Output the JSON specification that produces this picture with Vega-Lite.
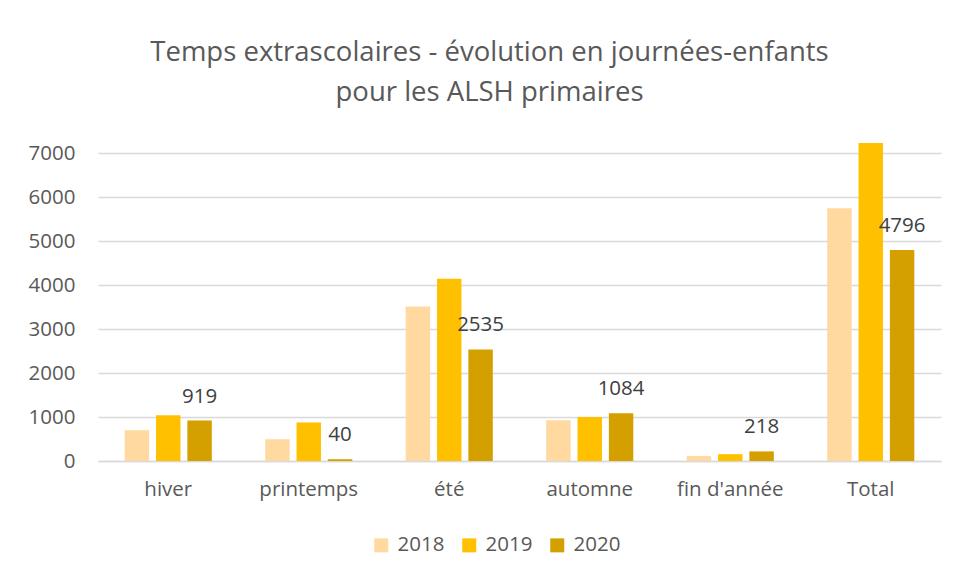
{
  "$schema": "https://vega.github.io/schema/vega-lite/v6.json",
  "autosize": "none",
  "width": 843,
  "height": 308,
  "padding": {"left": 98, "top": 153, "right": 17, "bottom": 120},
  "background": "white",
  "title": {
    "text": ["Temps extrascolaires - évolution en journées-enfants", "pour les ALSH primaires"],
    "anchor": "middle",
    "frame": "group",
    "dx": -30,
    "offset": 36,
    "fontSize": 27.5,
    "fontWeight": "normal",
    "font": "Open Sans",
    "color": "#595959",
    "lineHeight": 40
  },
  "data": {
    "values": [
      {"periode": "hiver", "annee": "2018", "valeur": 700},
      {"periode": "hiver", "annee": "2019", "valeur": 1040},
      {"periode": "hiver", "annee": "2020", "valeur": 919},
      {"periode": "printemps", "annee": "2018", "valeur": 495},
      {"periode": "printemps", "annee": "2019", "valeur": 875},
      {"periode": "printemps", "annee": "2020", "valeur": 40},
      {"periode": "été", "annee": "2018", "valeur": 3510},
      {"periode": "été", "annee": "2019", "valeur": 4140},
      {"periode": "été", "annee": "2020", "valeur": 2535},
      {"periode": "automne", "annee": "2018", "valeur": 925},
      {"periode": "automne", "annee": "2019", "valeur": 1000},
      {"periode": "automne", "annee": "2020", "valeur": 1084},
      {"periode": "fin d'année", "annee": "2018", "valeur": 115},
      {"periode": "fin d'année", "annee": "2019", "valeur": 155},
      {"periode": "fin d'année", "annee": "2020", "valeur": 218},
      {"periode": "Total", "annee": "2018", "valeur": 5746},
      {"periode": "Total", "annee": "2019", "valeur": 7229},
      {"periode": "Total", "annee": "2020", "valeur": 4796}
    ]
  },
  "encoding": {
    "x": {
      "field": "periode",
      "type": "nominal",
      "sort": null,
      "scale": {"paddingInner": 0.38, "paddingOuter": 0.19},
      "axis": {
        "title": null,
        "labelAngle": 0,
        "ticks": false,
        "domainColor": "#D9D9D9",
        "domainWidth": 1.5,
        "labelFont": "Open Sans",
        "labelFontSize": 20.5,
        "labelColor": "#595959",
        "labelPadding": 18
      }
    },
    "xOffset": {
      "field": "annee",
      "type": "nominal",
      "scale": {"paddingInner": 0.22, "paddingOuter": 0}
    },
    "y": {
      "field": "valeur",
      "type": "quantitative",
      "scale": {"domain": [0, 7000], "nice": false},
      "axis": {
        "title": null,
        "values": [0, 1000, 2000, 3000, 4000, 5000, 6000, 7000],
        "format": "d",
        "ticks": false,
        "domain": false,
        "gridColor": "#D9D9D9",
        "gridWidth": 1.5,
        "labelFont": "Open Sans",
        "labelFontSize": 20.5,
        "labelColor": "#595959",
        "labelPadding": 23
      }
    }
  },
  "layer": [
    {
      "mark": {"type": "bar"},
      "encoding": {
        "color": {
          "field": "annee",
          "type": "nominal",
          "scale": {"domain": ["2018", "2019", "2020"], "range": ["#FFD9A0", "#FFC000", "#D4A000"]},
          "legend": {
            "title": null,
            "orient": "none",
            "direction": "horizontal",
            "legendX": 273,
            "legendY": 382,
            "symbolType": "square",
            "symbolSize": 196,
            "symbolStrokeWidth": 0,
            "symbolOpacity": 1,
            "labelFont": "Open Sans",
            "labelFontSize": 20.5,
            "labelColor": "#595959",
            "columnPadding": 14,
            "labelOffset": 6
          }
        }
      }
    },
    {
      "transform": [{"filter": "datum.annee === '2020'"}],
      "mark": {"type": "text", "baseline": "alphabetic", "dy": -18, "font": "Open Sans", "fontSize": 20.5, "color": "#404040"},
      "encoding": {
        "text": {"field": "valeur", "type": "quantitative"}
      }
    }
  ],
  "config": {
    "view": {"stroke": null}
  }
}
